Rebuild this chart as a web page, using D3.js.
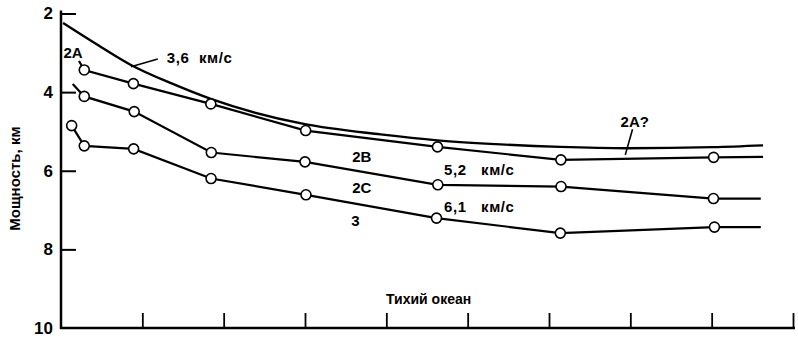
<!DOCTYPE html>
<html>
<head>
<meta charset="utf-8">
<script src="https://cdn.jsdelivr.net/npm/d3@7"></script>
<style>
  html, body { margin: 0; padding: 0; background: #fff; }
  svg { display: block; }
  text { font-family: "Liberation Sans", Arial, Helvetica, sans-serif; fill: #000; }
</style>
</head>
<body>
<svg id="chart" width="798" height="337"></svg>
<script>
// ---- data (depth of boundaries, km) ----
const yTickValues = [2, 4, 6, 8, 10];
const xTickValues = [1, 2, 3, 4, 5, 6, 7, 8, 9];

// 3,6 km/s boundary (smooth curve)
const curve36X = [0.025, 0.491, 0.860, 1.375, 1.842, 2.984, 3.929, 4.629, 5.403, 6.139, 6.962, 8.018, 8.632];
const curve36Y = [2.241, 2.851, 3.309, 3.792, 4.173, 4.808, 5.075, 5.227, 5.329, 5.393, 5.426, 5.400, 5.355];

// base of layer 2A (first point = leader start, last = tail)
const line2AX = [0.221, 0.286, 0.890, 1.842, 3.008, 4.629, 6.146, 8.024, 8.632];
const line2AY = [3.207, 3.436, 3.784, 4.300, 4.978, 5.393, 5.723, 5.659, 5.647];

// base of layer 2B
const line2BX = [0.144, 0.286, 0.900, 1.848, 3.000, 4.633, 6.148, 8.022, 8.604];
const line2BY = [3.792, 4.109, 4.496, 5.537, 5.774, 6.358, 6.402, 6.707, 6.707];

// base of layer 2C (top of layer 3)
const line2CX = [0.131, 0.286, 0.893, 1.845, 3.012, 4.617, 6.139, 8.034, 8.604];
const line2CY = [4.851, 5.367, 5.443, 6.198, 6.612, 7.205, 7.586, 7.433, 7.433];

// annotations: text, x, depth
const labelText = ["2A", "3,6  км/с", "2B", "2C", "3", "5,2   км/с", "6,1   км/с", "2A?"];
const labelX    = [0.03, 1.30, 3.58, 3.58, 3.57, 4.71, 4.71, 6.88];
const labelY    = [3.13, 3.26, 5.77, 6.57, 7.40, 6.10, 7.04, 4.88];

// leader lines: [x1, y1, x2, y2]
const leader36 = [0.86, 3.352, 1.19, 3.156];
const leader2Aq = [7.027, 4.943, 6.938, 5.596];

const yAxisTitle = "Мощность, км";
const oceanLabel = "Тихий океан";
const oceanX = 4.52, oceanY = 9.38;

// ---- drawing ----
const svg = d3.select("#chart");
const x = d3.scaleLinear().domain([0, 9]).range([61, 793]);
const y = d3.scaleLinear().domain([2, 10]).range([13.5, 328]);

const g = svg.append("g");

// left axis (ticks inward)
const yAxis = d3.axisLeft(y).tickValues(yTickValues).tickSize(-15).tickFormat(d3.format("d"));
const ya = g.append("g").attr("transform", `translate(${x(0)},0)`).call(yAxis);
ya.select(".domain").remove();
ya.selectAll(".tick line").attr("stroke", "#000").attr("stroke-width", 2);
ya.selectAll(".tick").filter(d => d === 10).select("line").remove();
ya.selectAll(".tick text")
  .attr("x", -8)
  .style("font-size", "17px").style("font-weight", "bold")
  .attr("font-family", null);
g.append("line").attr("x1", x(0)).attr("x2", x(0)).attr("y1", y(2) - 3).attr("y2", y(10) + 1)
  .attr("stroke", "#000").attr("stroke-width", 2.5);

// bottom axis (ticks inward, no labels)
const xAxis = d3.axisBottom(x).tickValues(xTickValues).tickSize(-15).tickFormat("");
const xa = g.append("g").attr("transform", `translate(0,${y(10)})`).call(xAxis);
xa.select(".domain").remove();
xa.selectAll(".tick line").attr("stroke", "#000").attr("stroke-width", 1.8);
g.append("line").attr("x1", x(0) - 1).attr("x2", x(9) + 2).attr("y1", y(10)).attr("y2", y(10))
  .attr("stroke", "#000").attr("stroke-width", 2.5);

// curve 3.6 km/s
const curveLine = d3.line().x(d => x(d[0])).y(d => y(d[1])).curve(d3.curveMonotoneX);
g.append("path")
  .datum(curve36X.map((v, i) => [v, curve36Y[i]]))
  .attr("d", curveLine).attr("fill", "none").attr("stroke", "#000").attr("stroke-width", 2.4);

// boundary lines with circles
const poly = d3.line().x(d => x(d[0])).y(d => y(d[1]));
const series = [
  { xs: line2AX, ys: line2AY, first: 1 },
  { xs: line2BX, ys: line2BY, first: 1 },
  { xs: line2CX, ys: line2CY, first: 0 }
];
series.forEach(s => {
  const pts = s.xs.map((v, i) => [v, s.ys[i]]);
  g.append("path").datum(pts).attr("d", poly)
    .attr("fill", "none").attr("stroke", "#000").attr("stroke-width", 2.2);
  g.selectAll(null).data(pts.slice(s.first, pts.length - 1)).enter().append("circle")
    .attr("cx", d => x(d[0])).attr("cy", d => y(d[1])).attr("r", 5)
    .attr("fill", "#fff").attr("stroke", "#000").attr("stroke-width", 1.6);
});

// leaders
[leader36, leader2Aq].forEach(l => {
  g.append("line").attr("x1", x(l[0])).attr("y1", y(l[1])).attr("x2", x(l[2])).attr("y2", y(l[3]))
    .attr("stroke", "#000").attr("stroke-width", 1.6);
});

// labels
labelText.forEach((t, i) => {
  g.append("text").attr("x", x(labelX[i])).attr("y", y(labelY[i]))
    .style("font-size", "15px").style("font-weight", "bold").style("white-space", "pre")
    .style("letter-spacing", t.indexOf("км/с") >= 0 ? "0.6px" : "0px")
    .attr("xml:space", "preserve")
    .text(t);
});

// ocean label
g.append("text").attr("x", x(oceanX)).attr("y", y(oceanY)).attr("text-anchor", "middle")
  .style("font-size", "14px").style("font-weight", "bold").text(oceanLabel);

// y axis title
g.append("text").attr("transform", `translate(20,${y(6.2)}) rotate(-90)`).attr("text-anchor", "middle")
  .style("font-size", "15px").style("font-weight", "bold").text(yAxisTitle);
</script>
</body>
</html>
